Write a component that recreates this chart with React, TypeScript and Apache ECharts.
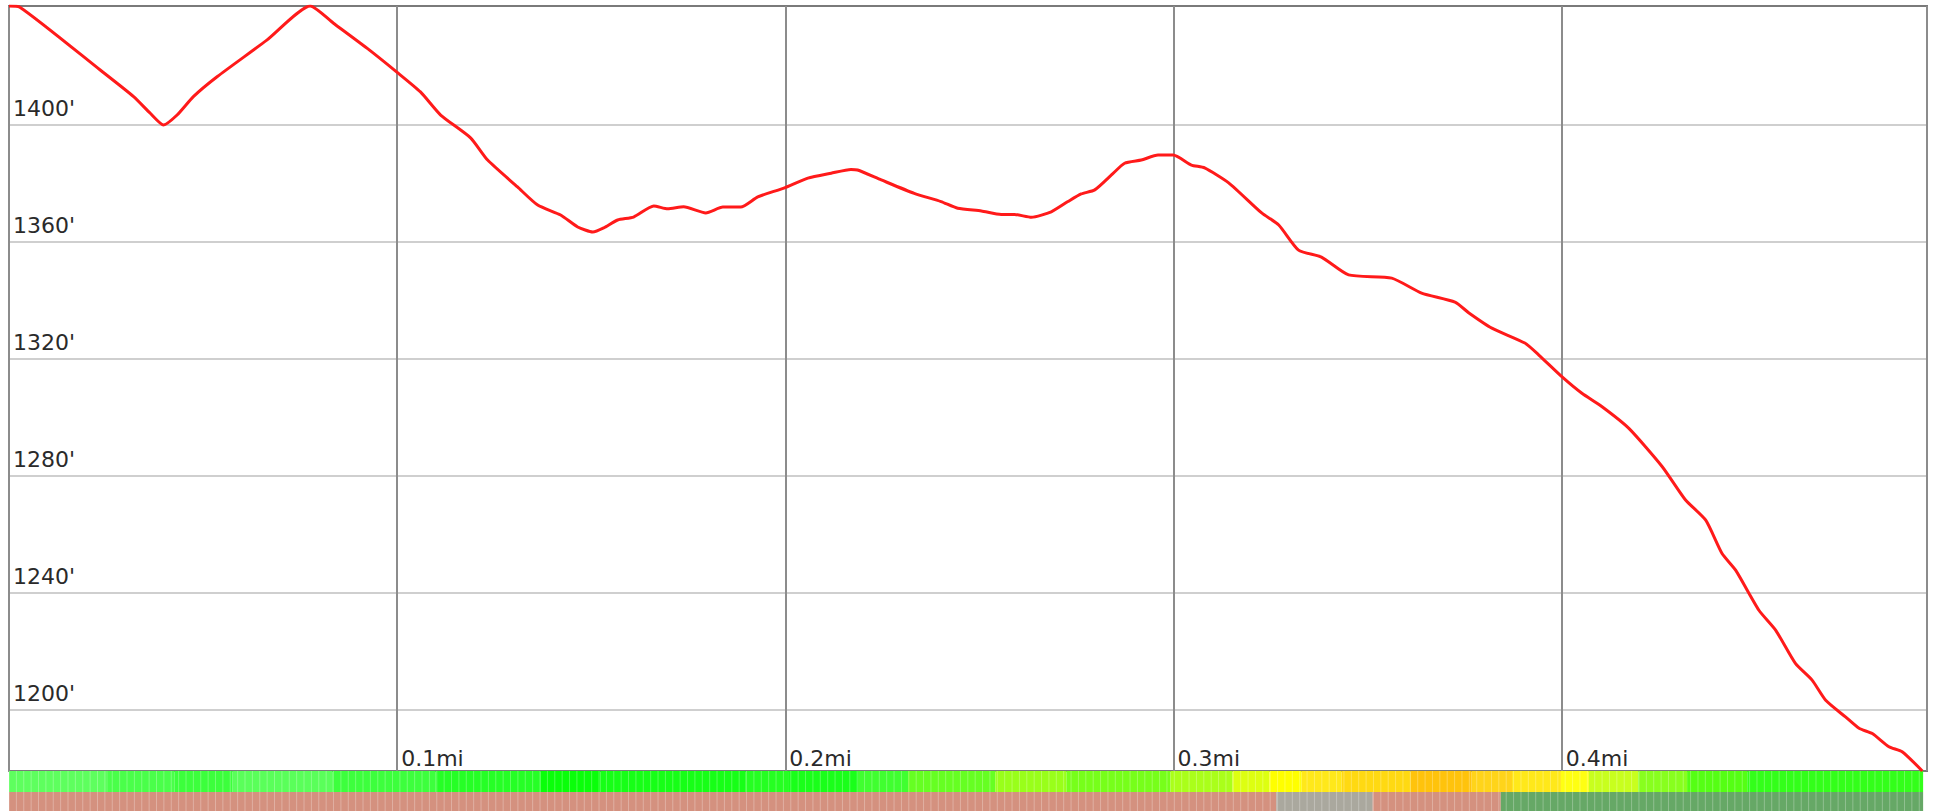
import React, { useEffect, useRef } from "react";
import * as echarts from "echarts";

// ---- Elevation profile (distance in miles, elevation in feet) ----
const DIST_MI = [
  0.0, 0.0028, 0.0235, 0.0321, 0.0364, 0.0398, 0.0433, 0.0475, 0.0536, 0.0665,
  0.0776, 0.0836, 0.0923, 0.1, 0.106, 0.1112, 0.1189, 0.1233, 0.131, 0.1362,
  0.1421, 0.1465, 0.1504, 0.1532, 0.1568, 0.1609, 0.1661, 0.1697, 0.1738, 0.1795,
  0.1839, 0.1885, 0.1929, 0.1996, 0.2058, 0.2118, 0.2169, 0.2186, 0.2247, 0.2332,
  0.2401, 0.2444, 0.2505, 0.2556, 0.259, 0.2634, 0.2685, 0.2728, 0.2762, 0.2797,
  0.284, 0.2874, 0.2917, 0.296, 0.2999, 0.3046, 0.308, 0.3142, 0.3227, 0.3271,
  0.3322, 0.3381, 0.3451, 0.3562, 0.3639, 0.3725, 0.3761, 0.382, 0.3905, 0.3941,
  0.4001, 0.4052, 0.4104, 0.4173, 0.4259, 0.4319, 0.4371, 0.4413, 0.4448, 0.4508,
  0.4551, 0.4602, 0.4645, 0.468, 0.4731, 0.4766, 0.48, 0.4843, 0.4877, 0.4929,
];
const ELEV_FT = [
  1440.7, 1440.3, 1418.8, 1409.7, 1404.0, 1400.0, 1403.4, 1409.7, 1416.5, 1429.1,
  1440.7, 1434.8, 1426.2, 1418.0, 1411.3, 1403.4, 1395.6, 1388.0, 1378.8, 1372.6,
  1369.2, 1365.1, 1363.4, 1364.8, 1367.5, 1368.5, 1372.3, 1371.3, 1372.0, 1369.9,
  1371.9, 1371.9, 1375.4, 1378.4, 1381.8, 1383.5, 1384.8, 1384.6, 1381.2, 1376.6,
  1373.8, 1371.5, 1370.6, 1369.4, 1369.4, 1368.4, 1370.3, 1373.8, 1376.4, 1377.8,
  1382.9, 1386.9, 1388.0, 1389.7, 1389.7, 1386.3, 1385.3, 1380.2, 1369.9, 1365.8,
  1357.2, 1354.8, 1348.7, 1347.6, 1342.5, 1339.4, 1335.7, 1330.5, 1325.4, 1321.3,
  1313.8, 1308.2, 1303.6, 1296.2, 1283.1, 1271.7, 1264.8, 1253.4, 1247.7, 1234.0,
  1227.2, 1215.8, 1210.1, 1203.2, 1197.5, 1193.6, 1191.8, 1187.3, 1185.6, 1179.0,
];

// ---- Axes ----
const X_TICK_STEP = 0.1;
const X_MAX = 0.4941;
const Y_MIN = 1179;
const Y_MAX = 1440.7;
const Y_TICKS = [1200, 1240, 1280, 1320, 1360, 1400];

// ---- Grade colour band (end distance in miles, colour) ----
const GRADE_BAND_ENDS = [
  0.0255, 0.0426, 0.0575, 0.0833, 0.1099, 0.137, 0.1524, 0.1898, 0.2007, 0.2187,
  0.2316, 0.2541, 0.2724, 0.2992, 0.3152, 0.3247, 0.333, 0.3433, 0.3611, 0.3768,
  0.3872, 0.3998, 0.407, 0.4197, 0.4323, 0.4478, 0.4931,
];
const GRADE_BAND_COLORS = [
  "#5eff5e", "#4aff4a", "#3cff3c", "#5aff5a", "#3dff3d", "#26ff26", "#0aff0a", "#17ff17", "#26ff22", "#1aff1a",
  "#40ff30", "#66ff22", "#99ff1a", "#77ff1a", "#aaff1a", "#ddff11", "#ffff00", "#ffe81a", "#ffd912", "#ffc30c",
  "#ffd41a", "#ffe81a", "#ffff12", "#c8ff1e", "#88ff1e", "#55ff14", "#33ff1a",
];

// ---- Surface colour band ----
const SURFACE_BAND_ENDS = [0.3265, 0.3513, 0.3843, 0.4931];
const SURFACE_BAND_COLORS = ["#d4917f", "#aaa89e", "#d4917f", "#66a866"];

const STRIPE_STEP_MI = 0.0019;

function bandData(ends: number[], colors: string[], y0: number, y1: number) {
  return ends.map((end, i) => ({
    value: [i === 0 ? 0 : ends[i - 1], end, y0, y1],
    itemStyle: { color: colors[i] },
  }));
}

export default function App() {
  const ref = useRef<HTMLDivElement>(null);

  useEffect(() => {
    if (!ref.current) return;
    const chart = echarts.init(ref.current, undefined, { renderer: "svg" });
    const font = "DejaVu Sans";

    const renderBand = (params: any, api: any) => {
      const x0 = api.value(0);
      const x1 = api.value(1);
      const y0 = api.value(2);
      const y1 = api.value(3);
      const pA = api.coord([x0, y1]);
      const pB = api.coord([x1, y0]);
      const children: any[] = [
        {
          type: "rect",
          shape: { x: pA[0], y: pA[1], width: pB[0] - pA[0], height: pB[1] - pA[1] },
          style: { fill: api.visual("color") },
        },
      ];
      const kStart = Math.ceil(x0 / STRIPE_STEP_MI);
      const kEnd = Math.floor(x1 / STRIPE_STEP_MI);
      for (let k = kStart; k <= kEnd; k++) {
        const px = api.coord([k * STRIPE_STEP_MI, y0])[0];
        children.push({
          type: "line",
          shape: { x1: px, y1: pA[1], x2: px, y2: pB[1] },
          style: { stroke: "rgba(255,255,255,0.28)", lineWidth: 1 },
        });
      }
      return { type: "group", children };
    };

    chart.setOption({
      animation: false,
      backgroundColor: "#ffffff",
      grid: [
        {
          left: 9,
          top: 6,
          width: 1918,
          height: 765,
          show: true,
          backgroundColor: "#ffffff",
          borderColor: "#7a7a7a",
          borderWidth: 2,
        },
        { left: 9, top: 771, width: 1918, height: 40 },
      ],
      xAxis: [
        {
          type: "value",
          gridIndex: 0,
          min: 0,
          max: X_MAX,
          interval: X_TICK_STEP,
          axisLine: { show: false },
          axisTick: { show: false },
          splitLine: { show: true, lineStyle: { color: "#8c8c8c", width: 2 } },
          axisLabel: {
            inside: true,
            showMinLabel: false,
            showMaxLabel: false,
            margin: 2,
            align: "left",
            verticalAlign: "bottom",
            lineHeight: 22,
            padding: [0, 0, 0, 4],
            fontFamily: font,
            fontSize: 22,
            color: "#2a2a2a",
            formatter: (v: number) => `${v.toFixed(1)}mi`,
          },
        },
        { type: "value", gridIndex: 1, min: 0, max: X_MAX, show: false },
      ],
      yAxis: [
        {
          type: "value",
          gridIndex: 0,
          min: Y_MIN,
          max: Y_MAX,
          axisLine: { show: false },
          axisTick: { show: false, customValues: Y_TICKS },
          splitLine: { show: true, lineStyle: { color: "#cfcfcf", width: 2 } },
          axisLabel: {
            customValues: Y_TICKS,
            inside: true,
            margin: 4,
            align: "left",
            verticalAlign: "bottom",
            lineHeight: 32,
            fontFamily: font,
            fontSize: 22,
            color: "#2a2a2a",
            formatter: (v: number) => `${v}'`,
          },
        },
        { type: "value", gridIndex: 1, min: 0, max: 40, show: false },
      ],
      series: [
        {
          type: "line",
          xAxisIndex: 0,
          yAxisIndex: 0,
          data: DIST_MI.map((d, i) => [d, ELEV_FT[i]]),
          showSymbol: false,
          smooth: 0.2,
          lineStyle: { color: "#ff1a1a", width: 3 },
          z: 5,
        },
        {
          type: "custom",
          xAxisIndex: 1,
          yAxisIndex: 1,
          renderItem: renderBand,
          data: bandData(GRADE_BAND_ENDS, GRADE_BAND_COLORS, 19, 40),
        },
        {
          type: "custom",
          xAxisIndex: 1,
          yAxisIndex: 1,
          renderItem: renderBand,
          data: bandData(SURFACE_BAND_ENDS, SURFACE_BAND_COLORS, 0, 19),
        },
      ],
    });

    return () => chart.dispose();
  }, []);

  return (
    <div
      ref={ref}
      style={{ position: "fixed", left: 0, top: 0, width: 1935, height: 811, background: "#fff" }}
    />
  );
}
